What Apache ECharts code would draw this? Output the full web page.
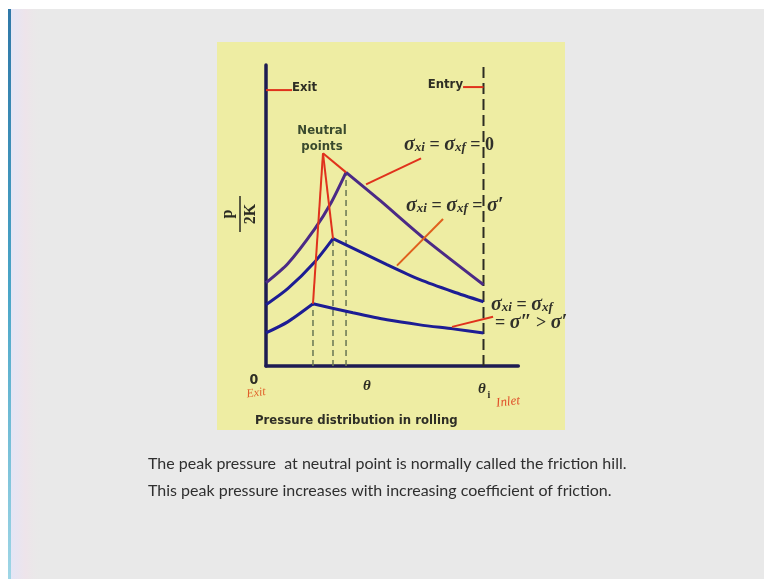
<!DOCTYPE html>
<html>
<head>
<meta charset="utf-8">
<script src="https://cdn.jsdelivr.net/npm/echarts@6/dist/echarts.min.js"></script>
<style>
  html, body { margin: 0; padding: 0; background: #e9e9e9; }
  #chart { width: 764px; height: 579px; }
</style>
</head>
<body>
<div id="chart"></div>
<script>
// Roll-gap pressure p/2K versus contact angle θ (θ = 1 stands for θi at entry)
const curveZeroTension = [[0, 0.83], [0.10, 1.02], [0.225, 1.37], [0.30, 1.63], [0.368, 1.93], [0.524, 1.65], [0.722, 1.28], [1.0, 0.81]];
const curveSigma1 = [[0, 0.61], [0.10, 0.77], [0.225, 1.04], [0.308, 1.27], [0.556, 1.01], [0.708, 0.86], [0.860, 0.74], [1.0, 0.64]];
const curveSigma2 = [[0, 0.33], [0.10, 0.44], [0.216, 0.62], [0.400, 0.53], [0.556, 0.46], [0.708, 0.41], [0.860, 0.37], [1.0, 0.33]];
// index of the neutral point (peak) in each curve
const peakIndex = [4, 3, 2];

const thetaEntry = 1.0;
const thetaAxisMax = 1.16;
const pAxisMax = 3.0;

// leader lines: "Neutral points" label, tension labels, Exit / Entry tags
const neutralApex = [0.262, 2.12];
const leaderZero = [[0.46, 1.81], [0.713, 2.07]];
const leaderSigma1 = [[0.602, 1.0], [0.814, 1.465]];
const leaderSigma2 = [[0.855, 0.39], [1.044, 0.49]];
const exitTag = [[0, 2.75], [0.12, 2.75]];
const entryTag = [[0.906, 2.78], [1.0, 2.78]];

const curves = [curveZeroTension, curveSigma1, curveSigma2];
const curveColors = ['#4b2a86', '#1d1d94', '#1d1d94'];

const chart = echarts.init(document.getElementById('chart'));

const series = [];
const red = '#e0321c';

function seg(data, color, width, type, z) {
  return {
    type: 'line', data: data, symbol: 'none', silent: true, z: z || 3,
    lineStyle: { color: color, width: width, type: type || 'solid' },
    animation: false
  };
}

// dashed drop lines from each neutral point to the θ axis
curves.forEach((c, i) => {
  const pk = c[peakIndex[i]];
  series.push(seg([[pk[0], 0], pk], '#6f7d58', 1.6, [6, 4], 2));
});

// entry plane
series.push(seg([[thetaEntry, 0], [thetaEntry, pAxisMax]], '#2c2c22', 2, [11, 5], 2));

// pressure curves: rising (exit side) and falling (entry side) branches
curves.forEach((c, i) => {
  const k = peakIndex[i];
  const up = seg(c.slice(0, k + 1), curveColors[i], 3, 'solid', 4);
  const down = seg(c.slice(k), curveColors[i], 3, 'solid', 4);
  up.smooth = 0.25;
  down.smooth = 0.25;
  series.push(up, down);
});

// leader lines to the neutral points
curves.forEach((c, i) => {
  series.push(seg([neutralApex, c[peakIndex[i]]], red, 2, 'solid', 5));
});
series.push(seg(leaderZero, red, 2, 'solid', 5));
series.push(seg(leaderSigma1, '#e0601c', 2, 'solid', 5));
series.push(seg(leaderSigma2, red, 2, 'solid', 5));
series.push(seg(exitTag, red, 2, 'solid', 5));
series.push(seg(entryTag, red, 2, 'solid', 5));

const narrow = "'Liberation Sans Narrow', 'DejaVu Sans Condensed', sans-serif";
const serif = "'Liberation Serif', 'DejaVu Serif', serif";
const dark = '#2e2e24';

function txt(x, y, text, font, fill, align, valign, extra) {
  return Object.assign({
    type: 'text', x: x, y: y, silent: true, z: 20,
    style: { text: text, font: font, fill: fill, align: align || 'left', verticalAlign: valign || 'middle' }
  }, extra || {});
}

const sigmaRich = {
  s: { font: 'italic bold 20px ' + serif, fill: '#30302a' },
  b: { font: 'italic bold 13px ' + serif, fill: '#30302a', padding: [6, 0, 0, 0] },
  e: { font: 'bold 18px ' + serif, fill: '#30302a' }
};

function richTxt(x, y, text) {
  return {
    type: 'text', x: x, y: y, silent: true, z: 20,
    style: { text: text, rich: sigmaRich, align: 'left', verticalAlign: 'middle', font: 'bold 18px ' + serif, fill: '#30302a' }
  };
}

const graphic = [
  // slide backdrop
  { type: 'rect', shape: { x: 0, y: 0, width: 764, height: 9 }, style: { fill: '#ffffff' }, z: 0 },
  { type: 'rect', shape: { x: 0, y: 9, width: 8, height: 570 }, style: { fill: '#ffffff' }, z: 0 },
  { type: 'rect', shape: { x: 8, y: 9, width: 3, height: 570 },
    style: { fill: new echarts.graphic.LinearGradient(0, 0, 0, 1, [{ offset: 0, color: '#2f78a8' }, { offset: 0.5, color: '#4aa6c8' }, { offset: 1, color: '#9fd6e6' }]) }, z: 0 },
  { type: 'rect', shape: { x: 11, y: 9, width: 30, height: 570 },
    style: { fill: new echarts.graphic.LinearGradient(0, 0, 1, 0, [{ offset: 0, color: '#e4e6f6' }, { offset: 0.5, color: '#eee4ea' }, { offset: 1, color: 'rgba(233,233,233,0)' }]) }, z: 0 },
  // yellow panel
  { type: 'rect', shape: { x: 217, y: 42, width: 348, height: 388 }, style: { fill: '#eeeda3' }, z: 0 },

  txt(292, 88, 'Exit', 'bold 13px ' + narrow, dark, 'left'),
  txt(463, 85, 'Entry', 'bold 13px ' + narrow, dark, 'right'),
  txt(322, 131, 'Neutral', 'bold 13px ' + narrow, '#3a4a2e', 'center'),
  txt(322, 147, 'points', 'bold 13px ' + narrow, '#3a4a2e', 'center'),

  richTxt(404, 145, '{s|σ}{b|xi} = {s|σ}{b|xf} = 0'),
  richTxt(406, 206, '{s|σ}{b|xi} = {s|σ}{b|xf} = {s|σ′}'),
  richTxt(491, 305, '{s|σ}{b|xi} = {s|σ}{b|xf}'),
  richTxt(495, 323, '= {s|σ″} > {s|σ′}'),

  // ordinate label p / 2K, rotated
  {
    type: 'group', x: 240, y: 214, rotation: Math.PI / 2, silent: true, z: 20,
    children: [
      { type: 'text', x: 0, y: -4, style: { text: 'p', font: 'bold 16px ' + serif, fill: '#2a2a22', align: 'center', verticalAlign: 'bottom' } },
      { type: 'line', shape: { x1: -18, y1: 0, x2: 18, y2: 0 }, style: { stroke: '#2a2a22', lineWidth: 1.5 } },
      { type: 'text', x: 0, y: 3, style: { text: '2K', font: 'bold 16px ' + serif, fill: '#2a2a22', align: 'center', verticalAlign: 'top' } }
    ]
  },

  txt(254, 380, '0', 'bold 14px ' + narrow, dark, 'center'),
  txt(367, 386, 'θ', 'italic bold 15px ' + serif, dark, 'center'),
  txt(482, 389, 'θ', 'italic bold 15px ' + serif, dark, 'center'),
  txt(489, 395, 'i', 'bold 10px ' + serif, dark, 'center'),
  txt(256, 393, 'Exit', 'italic 12px ' + serif, '#e0602a', 'center', 'middle', { rotation: 0.15 }),
  txt(508, 402, 'Inlet', 'italic 13px ' + serif, '#e0502a', 'center', 'middle', { rotation: 0.12 }),
  txt(255, 421, 'Pressure distribution in rolling', 'bold 13px ' + narrow, '#2e2e26', 'left'),

  txt(148, 464, 'The peak pressure  at neutral point is normally called the friction hill.', '16px Lato, sans-serif', '#2f2f2f', 'left'),
  txt(148, 491, 'This peak pressure increases with increasing coefficient of friction.', '16px Lato, sans-serif', '#2f2f2f', 'left')
];

chart.setOption({
  animation: false,
  backgroundColor: '#e9e9e9',
  grid: { left: 266, top: 65, width: 252.3, height: 301, containLabel: false },
  xAxis: {
    type: 'value', min: 0, max: thetaAxisMax,
    axisLine: { lineStyle: { color: '#1e1c52', width: 3.5 } },
    axisTick: { show: false }, axisLabel: { show: false }, splitLine: { show: false }
  },
  yAxis: {
    type: 'value', min: 0, max: pAxisMax,
    axisLine: { show: true, lineStyle: { color: '#1e1c52', width: 3.5 } },
    axisTick: { show: false }, axisLabel: { show: false }, splitLine: { show: false }
  },
  graphic: graphic,
  series: series
});
</script>
</body>
</html>
